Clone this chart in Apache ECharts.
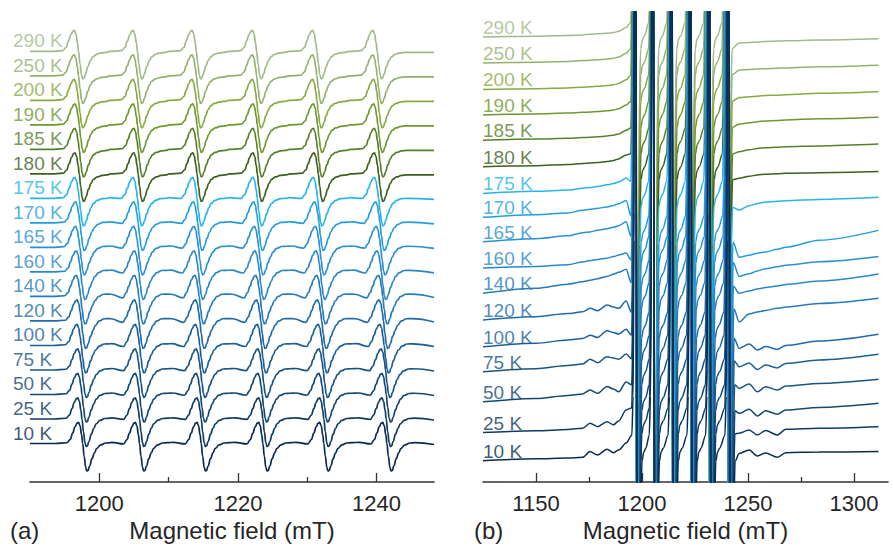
<!DOCTYPE html>
<html>
<head>
<meta charset="utf-8">
<script src="https://cdn.jsdelivr.net/npm/echarts@6/dist/echarts.min.js"></script>
<style>
  html, body { margin: 0; padding: 0; background: #fff; }
  #chart { width: 893px; height: 550px; }
</style>
</head>
<body>
<div id="chart"></div>
<script>
// Temperatures of the stacked EPR spectra, top to bottom
const temps = ['290 K', '250 K', '200 K', '190 K', '185 K', '180 K', '175 K', '170 K', '165 K',
  '160 K', '140 K', '120 K', '100 K', '75 K', '50 K', '25 K', '10 K'];
const colors = ['#a3b98a', '#97b070', '#8aa943', '#6f982f', '#58802a', '#3f5f1f', '#27b5ea', '#229edd',
  '#2a90d2', '#2b88c8', '#267bbb', '#1f6aa8', '#1b5f98', '#175486', '#134874', '#0f3b62', '#0b2c52'];

// Zero-crossing fields (mT) of the six hyperfine lines for each temperature
const lineCenters = [
  [1197.0, 1205.5, 1214.0, 1222.7, 1231.4, 1240.1],
  [1197.0, 1205.5, 1214.0, 1222.7, 1231.4, 1240.1],
  [1197.0, 1205.5, 1214.0, 1222.7, 1231.4, 1240.2],
  [1197.1, 1205.5, 1214.1, 1222.8, 1231.5, 1240.2],
  [1197.1, 1205.6, 1214.1, 1222.8, 1231.5, 1240.3],
  [1197.1, 1205.6, 1214.1, 1222.8, 1231.6, 1240.3],
  [1197.1, 1205.5, 1214.1, 1222.8, 1231.5, 1240.3],
  [1197.2, 1205.6, 1214.2, 1222.9, 1231.7, 1240.5],
  [1197.2, 1205.6, 1214.3, 1223.0, 1231.8, 1240.6],
  [1197.3, 1205.7, 1214.3, 1223.1, 1231.9, 1240.7],
  [1197.3, 1205.7, 1214.4, 1223.2, 1232.0, 1240.9],
  [1197.4, 1205.7, 1214.5, 1223.3, 1232.1, 1241.0],
  [1197.4, 1205.8, 1214.5, 1223.4, 1232.2, 1241.1],
  [1197.5, 1205.8, 1214.6, 1223.5, 1232.3, 1241.3],
  [1197.5, 1205.8, 1214.6, 1223.5, 1232.3, 1241.4],
  [1197.5, 1205.8, 1214.7, 1223.6, 1232.4, 1241.4],
  [1197.6, 1205.8, 1214.7, 1223.6, 1232.4, 1241.5]
];

// ---- Panel (a): narrow sweep ----
const aBase = [16, 15, 14, 13, 12, 11, 10, 9, 8, 7, 6, 5, 4, 3, 2, 1, 0];
// derivative line shape around one hyperfine line (field offset mT, intensity a.u.)
const aShapeDx = [-4.04, -2.3, -1.8, -1.45, -1.1, -0.8, -0.6, -0.38, -0.15, 0, 0.22, 0.43,
  0.6, 0.78, 1.0, 1.35, 1.7, 2.05, 2.60, 3.32, 4.04];
const aShapeDy = [0, 0.03, 0.16, 0.42, 0.68, 0.83, 0.86, 0.72, 0.35, 0, -0.52, -0.96,
  -1.12, -1.10, -0.92, -0.62, -0.38, -0.22, -0.12, -0.06, -0.04];
// weak shoulder between the lines at low temperature
const aHumpShape = [0.6, -0.6, 0, 0, 0, 0, 0, 0, 0, 0, 0, 0, 0, 0, 0, 0, 0, 0.3, 0.8, 1.0, 0.9];
const aHump = [0, 0, 0, 0, 0, 0, 0.05, 0.08, 0.10, 0.12, 0.15, 0.15, 0.12, 0.10, 0.10, 0.08, 0.08];
const aTicks = [1200, 1220, 1240];
const aMinorTicks = [1210, 1230];

// ---- Panel (b): wide sweep ----
const bBase = [17.12, 16.12, 15.10, 14.12, 13.15, 12.13, 11.10, 10.18, 9.24, 8.23, 7.26, 6.23,
  5.20, 4.24, 3.09, 1.90, 0.82];
const bLeftX = [1125, 1150, 1165, 1172, 1175.5, 1179, 1183.5, 1186.5, 1189, 1192.5];
const bLeft = [
  [0, 0.03, 0.06, 0.08, 0.10, 0.12, 0.14, 0.17, 0.22, 0.36],
  [0, 0.03, 0.06, 0.09, 0.10, 0.12, 0.15, 0.18, 0.23, 0.37],
  [0, 0.03, 0.06, 0.09, 0.10, 0.12, 0.15, 0.18, 0.23, 0.37],
  [0, 0.04, 0.07, 0.10, 0.11, 0.13, 0.16, 0.19, 0.24, 0.38],
  [0, 0.04, 0.07, 0.10, 0.11, 0.13, 0.16, 0.19, 0.24, 0.38],
  [0, 0.04, 0.08, 0.12, 0.14, 0.16, 0.20, 0.24, 0.30, 0.45],
  [0, 0.08, 0.13, 0.20, 0.23, 0.27, 0.33, 0.38, 0.44, 0.59],
  [0, 0.10, 0.17, 0.27, 0.31, 0.35, 0.40, 0.46, 0.52, 0.65],
  [0, 0.12, 0.23, 0.35, 0.38, 0.44, 0.50, 0.56, 0.62, 0.77],
  [0, 0.06, 0.13, 0.23, 0.29, 0.33, 0.38, 0.44, 0.50, 0.58],
  [0, 0.19, 0.35, 0.44, 0.50, 0.56, 0.65, 0.73, 0.81, 0.92],
  [0, 0.13, 0.25, 0.32, 0.45, 0.36, 0.58, 0.50, 0.45, 0.73],
  [0, 0.14, 0.26, 0.32, 0.45, 0.36, 0.62, 0.55, 0.49, 0.68],
  [0, 0.12, 0.24, 0.30, 0.48, 0.35, 0.58, 0.53, 0.48, 0.68],
  [0, 0.12, 0.24, 0.30, 0.45, 0.32, 0.58, 0.49, 0.38, 0.76],
  [0, 0.07, 0.12, 0.17, 0.36, 0.23, 0.42, 0.30, 0.45, 0.87],
  [0, 0.07, 0.10, 0.13, 0.35, 0.22, 0.44, 0.31, 0.41, 0.68]
];
const bRightX = [1245.8, 1250.5, 1254.4, 1258.3, 1263.8, 1267.8, 1283.5, 1311.5];
const bRight = [
  [-0.23, -0.21, -0.19, -0.17, -0.16, -0.15, -0.12, -0.07],
  [-0.28, -0.25, -0.23, -0.22, -0.20, -0.19, -0.15, -0.09],
  [-0.31, -0.28, -0.26, -0.23, -0.22, -0.20, -0.15, -0.09],
  [-0.35, -0.30, -0.26, -0.23, -0.21, -0.19, -0.15, -0.09],
  [-0.45, -0.37, -0.32, -0.29, -0.27, -0.25, -0.22, -0.15],
  [-0.45, -0.37, -0.32, -0.29, -0.27, -0.25, -0.23, -0.19],
  [-0.64, -0.47, -0.39, -0.33, -0.30, -0.28, -0.23, -0.15],
  [-1.53, -1.46, -1.38, -1.33, -1.23, -1.15, -0.88, -0.50],
  [-1.33, -1.23, -1.12, -1.04, -0.96, -0.90, -0.77, -0.57],
  [-0.97, -0.88, -0.81, -0.75, -0.69, -0.63, -0.50, -0.23],
  [-1.10, -0.80, -0.72, -0.66, -0.58, -0.53, -0.39, -0.19],
  [-1.09, -0.92, -1.15, -1.02, -1.13, -0.98, -0.81, -0.55],
  [-0.77, -0.62, -0.87, -0.70, -0.81, -0.64, -0.51, -0.29],
  [-0.64, -0.47, -0.77, -0.58, -0.70, -0.55, -0.45, -0.29],
  [-0.45, -0.29, -0.55, -0.35, -0.48, -0.32, -0.22, -0.06],
  [-0.02, 0.10, -0.09, 0.08, -0.09, 0.13, 0.17, 0.23],
  [0.28, 0.41, 0.18, 0.30, 0.13, 0.31, 0.33, 0.35]
];
// level of each trace in the gaps between the (off-scale) hyperfine lines
const bGap = [0.05, 0.05, 0.05, 0.02, -0.03, 0, -0.03, -0.45, -0.30, -0.20, -0.10, -0.20, -0.05, 0, 0.15, 0.45, 0.48];
const bShapeDx = [-2.4, -1.8, -1.4, -1.0, 1.0, 1.4, 1.8, 2.4, 3.2, 4.2];
const bShapeDy = [0.5, 2, 8, 30, -30, -8, -2, -0.5, -0.15, 0];
const bTicks = [1150, 1200, 1250, 1300];
const bMinorTicks = [1175, 1225, 1275];

// ---- build traces ----
function traceA(i) {
  const pts = [[1190, aBase[i]]];
  lineCenters[i].forEach((c, j) => {
    aShapeDx.forEach((dx, k) => {
      const hump = (j > 0 || dx > 0) ? aHump[i] * aHumpShape[k] : 0;
      pts.push([c + dx, aBase[i] + aShapeDy[k] + hump]);
    });
  });
  pts.push([1248.3, aBase[i] - 0.04]);
  return pts;
}
function traceB(i) {
  const pts = bLeftX.map((x, k) => [x, bBase[i] + bLeft[i][k]]);
  lineCenters[i].forEach((c, j) => {
    bShapeDx.forEach((dx, k) => {
      if (j === 5 && dx > 2.5) return;
      pts.push([c + dx, bBase[i] + bGap[i] + bShapeDy[k]]);
    });
  });
  bRightX.forEach((x, k) => pts.push([x, bBase[i] + bRight[i][k]]));
  return pts;
}

const font = '"Liberation Sans", Arial, Helvetica, sans-serif';
const axisColor = '#333333';
const textColor = '#262626';

function bottomAxes(grid, min, max, ticks, minor) {
  return [
    {
      gridIndex: grid, type: 'value', min: min, max: max, position: 'bottom',
      axisLine: { onZero: false, lineStyle: { color: axisColor, width: 1.6 } },
      axisTick: { inside: true, length: 9, customValues: ticks, lineStyle: { color: axisColor, width: 1.3 } },
      axisLabel: { customValues: ticks, formatter: v => String(v), color: textColor, fontSize: 22, fontFamily: font, margin: 10 },
      splitLine: { show: false },
      name: 'Magnetic field (mT)', nameLocation: 'middle', nameGap: 36,
      nameTextStyle: { color: textColor, fontSize: 24, fontFamily: font }
    },
    {
      gridIndex: grid, type: 'value', min: min, max: max, position: 'bottom', offset: 0,
      axisLine: { show: false, onZero: false },
      axisTick: { inside: true, length: 5, customValues: minor, lineStyle: { color: axisColor, width: 1.3 } },
      axisLabel: { show: false },
      splitLine: { show: false }
    }
  ];
}

const series = [];
temps.forEach((t, i) => {
  series.push({
    type: 'line', name: t, xAxisIndex: 0, yAxisIndex: 0, data: traceA(i),
    showSymbol: false, smooth: 0.45, smoothMonotone: 'x', animation: false,
    lineStyle: { color: colors[i], width: 1.7 }, z: 2 + i
  });
});
temps.forEach((t, i) => {
  series.push({
    type: 'line', name: t, xAxisIndex: 2, yAxisIndex: 1, data: traceB(i),
    showSymbol: false, smooth: 0.3, smoothMonotone: 'x', animation: false,
    lineStyle: { color: colors[i], width: 1.5 }, z: 2 + i
  });
});
// temperature labels at the start of each trace
series.push({
  type: 'scatter', xAxisIndex: 0, yAxisIndex: 0, symbolSize: 0, animation: false, z: 40,
  data: temps.map((t, i) => ({
    value: [1190, aBase[i]], name: t,
    label: { show: true, formatter: t, position: [-17, -20], color: colors[i],
      fontSize: 19, fontFamily: font }
  }))
});
series.push({
  type: 'scatter', xAxisIndex: 2, yAxisIndex: 1, symbolSize: 0, animation: false, z: 40,
  data: temps.map((t, i) => ({
    value: [1125, bBase[i]], name: t,
    label: { show: true, formatter: t, position: [0, -19], color: colors[i],
      fontSize: 19, fontFamily: font }
  }))
});

const chart = echarts.init(document.getElementById('chart'), null, { renderer: 'svg' });
chart.setOption({
  backgroundColor: '#ffffff',
  animation: false,
  grid: [
    { left: 30, right: 459, top: 10, bottom: 68 },
    { left: 483, right: 5, top: 12, bottom: 68 }
  ],
  xAxis: [].concat(
    bottomAxes(0, 1190, 1248.3, aTicks, aMinorTicks),
    bottomAxes(1, 1125, 1316, bTicks, bMinorTicks)
  ),
  yAxis: [
    { gridIndex: 0, type: 'value', min: -1.571, max: 17.69, show: false },
    { gridIndex: 1, type: 'value', min: 0, max: 18.08, show: false }
  ],
  graphic: [
    { type: 'text', left: 10, top: 518, style: { text: '(a)', fontSize: 24, fontFamily: font, fill: textColor } },
    { type: 'text', left: 474, top: 518, style: { text: '(b)', fontSize: 24, fontFamily: font, fill: textColor } }
  ],
  series: series
});
</script>
</body>
</html>
